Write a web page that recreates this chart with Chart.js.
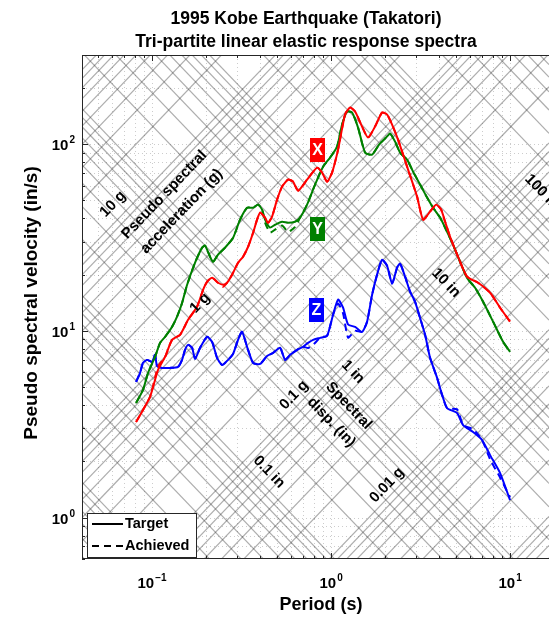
<!DOCTYPE html>
<html>
<head>
<meta charset="utf-8">
<script src="https://cdn.jsdelivr.net/npm/chart.js@4.4.0/dist/chart.umd.min.js"></script>
<style>
  html, body { margin: 0; padding: 0; background: #fff; overflow: hidden; }
  canvas { display: block; }
</style>
</head>
<body>
<canvas id="chart" width="549" height="617"></canvas>
<script>
// ---------------------------------------------------------------------------
// DATA (periods in s, pseudo spectral velocity in in/s)

const periodsX = [0.0814, 0.089, 0.0974, 0.1039, 0.108, 0.1182, 0.1293, 0.1433, 0.1589, 0.1783, 0.1927, 0.2028, 0.2164, 0.2337, 0.2492, 0.2624, 0.2798, 0.3022, 0.3224, 0.3439, 0.3667, 0.386, 0.4012, 0.4278, 0.4446, 0.468, 0.4993, 0.5324, 0.5751, 0.6134, 0.6542, 0.7343, 0.8351, 0.8906, 0.9499, 1.013, 1.094, 1.197, 1.277, 1.362, 1.49, 1.609, 1.761, 1.927, 2.056, 2.192, 2.367, 2.658, 3.023, 3.266, 3.574, 3.861, 4.118, 4.336, 4.623, 5.124, 5.751, 6.627, 7.733, 8.795, 10];
const targetX = [3.25, 3.77, 4.43, 5.46, 6.18, 7.25, 8.95, 9.52, 11.46, 13.45, 16.59, 18.31, 19.24, 18.09, 17.65, 18.09, 19.97, 23.15, 24.94, 28.2, 33.5, 39.4, 42.9, 40.4, 37.9, 40.9, 50.4, 59.2, 64.5, 62.9, 56.3, 64.5, 74.8, 70.4, 62.9, 70.4, 93.4, 144, 156.9, 149.4, 124.1, 108.4, 124.1, 147.6, 144, 127.2, 105.7, 75.7, 52.3, 39.4, 43.5, 47.4, 44.6, 38.4, 31.9, 24.9, 19.5, 18.1, 16.0, 13.3, 11.2];
const achievedX = [3.25, 3.77, 4.43, 5.6, 6.45, 7.25, 8.95, 9.52, 11.46, 13.45, 16.59, 18.31, 19.24, 18.09, 17.2, 18.09, 19.97, 23.15, 24.94, 28.2, 33.5, 39.4, 42.9, 40.4, 37.9, 40.9, 50.4, 59.2, 64.5, 62.9, 56.3, 64.5, 74.8, 70.4, 62.9, 70.4, 93.4, 144, 156.9, 149.4, 124.1, 108.4, 124.1, 147.6, 144, 127.2, 105.7, 75.7, 52.3, 39.4, 43.5, 47.4, 44.6, 38.4, 31.9, 24.9, 19.5, 18.1, 16.0, 13.3, 11.2];

const periodsY = [0.0814, 0.089, 0.095, 0.1039, 0.1108, 0.1182, 0.1293, 0.1379, 0.1471, 0.1568, 0.1739, 0.1903, 0.1977, 0.2109, 0.2192, 0.2337, 0.2557, 0.2835, 0.3102, 0.3394, 0.3667, 0.391, 0.4116, 0.4278, 0.4562, 0.4865, 0.5324, 0.5751, 0.6293, 0.6712, 0.7343, 0.814, 0.9022, 0.9872, 1.08, 1.152, 1.229, 1.31, 1.415, 1.549, 1.695, 1.854, 2.029, 2.136, 2.278, 2.43, 2.658, 2.872, 3.143, 3.439, 3.715, 4.064, 4.447, 4.804, 5.256, 5.751, 6.375, 7.068, 8.036, 9.141, 10];
const targetY = [4.11, 4.83, 5.96, 7.25, 8.62, 9.29, 10.5, 11.9, 14.1, 17.6, 23.2, 27.9, 28.6, 24.9, 23.4, 25.6, 27.9, 31.5, 39.4, 45.6, 45.6, 47.4, 44.6, 39.4, 35.7, 37.0, 38.4, 37.9, 38.4, 40.4, 47.4, 60.7, 75.7, 84.7, 97.0, 127.2, 149.4, 147.6, 122.6, 90.0, 87.8, 99.4, 108.4, 113.8, 103.1, 90.0, 82.6, 71.2, 60.7, 51.7, 45.6, 40.4, 33.9, 28.9, 23.4, 19.2, 17.0, 14.3, 11.2, 8.73, 7.72];
const achievedY = [4.11, 4.83, 5.96, 7.25, 8.62, 9.29, 10.5, 11.9, 14.1, 17.6, 23.2, 27.9, 28.6, 24.9, 23.4, 25.6, 27.9, 31.5, 39.4, 45.6, 45.6, 47.4, 44.6, 38.0, 33.6, 34.8, 36.6, 33.9, 36.0, 40.4, 47.4, 60.7, 75.7, 84.7, 97.0, 127.2, 149.4, 147.6, 122.6, 90.0, 87.8, 99.4, 108.4, 113.8, 103.1, 90.0, 82.6, 71.2, 60.7, 51.7, 45.6, 40.4, 33.9, 28.9, 23.4, 19.2, 17.0, 14.3, 11.2, 8.73, 7.72];

const periodsZ = [0.0814, 0.0857, 0.089, 0.0938, 0.1, 0.1039, 0.1066, 0.1137, 0.126, 0.1397, 0.1471, 0.1528, 0.1589, 0.1673, 0.1739, 0.1854, 0.2028, 0.2164, 0.2307, 0.2461, 0.2658, 0.2835, 0.3022, 0.3182, 0.3394, 0.3667, 0.4012, 0.4389, 0.4742, 0.5189, 0.5534, 0.5902, 0.6457, 0.6976, 0.7437, 0.7932, 0.868, 0.9499, 1.026, 1.094, 1.167, 1.245, 1.362, 1.49, 1.589, 1.695, 1.807, 1.927, 2.056, 2.192, 2.338, 2.43, 2.591, 2.763, 2.947, 3.143, 3.351, 3.574, 3.91, 4.171, 4.447, 5.058, 5.465, 6.214, 6.977, 7.733, 8.795, 10];
const targetZ = [5.33, 5.96, 6.74, 6.99, 6.82, 7.44, 6.49, 6.33, 6.33, 6.41, 6.99, 7.91, 8.41, 8.11, 7.08, 8.11, 9.29, 8.73, 7.17, 6.57, 6.99, 7.53, 8.95, 9.88, 8.21, 6.74, 6.65, 7.34, 7.62, 8.11, 6.99, 7.44, 7.91, 8.21, 8.62, 8.95, 9.17, 9.4, 12.2, 14.7, 13.3, 10.8, 10.5, 9.88, 11.2, 15.6, 20.0, 24.0, 22.3, 17.9, 21.8, 22.9, 19.5, 16.2, 14.3, 11.7, 9.52, 7.17, 5.6, 4.54, 3.86, 3.63, 3.13, 2.87, 2.6, 2.16, 1.73, 1.24];
const achievedZ = [5.33, 5.96, 6.74, 6.99, 6.82, 7.44, 6.49, 6.33, 6.33, 6.41, 6.99, 7.91, 8.41, 8.11, 7.08, 8.11, 9.29, 8.73, 7.17, 6.57, 6.99, 7.53, 8.95, 9.88, 8.21, 6.74, 6.65, 7.34, 7.62, 8.11, 6.99, 7.44, 7.91, 8.21, 8.1, 8.4, 9.17, 9.4, 12.2, 14.0, 12.4, 9.2, 10.0, 9.88, 11.2, 15.6, 20.0, 24.0, 22.3, 17.9, 21.8, 22.9, 19.5, 16.2, 14.3, 11.7, 9.52, 7.17, 5.6, 4.54, 3.86, 3.8, 3.13, 2.97, 2.6, 2.05, 1.64, 1.28];

// axis limits and tick exponents
const X_MIN = 0.0406, X_MAX = 16.5;
const Y_MIN = 0.6, Y_MAX = 300;
const xTickExps = [-1, 0, 1];
const yTickExps = [0, 1, 2];

const G_IN = 386.09;          // 1 g in in/s^2
const TWO_PI = 2 * Math.PI;
const FONT = '"Liberation Sans", Arial, Helvetica, sans-serif';

function pts(periods, vals) {
    return periods.map((t, i) => ({ x: t, y: vals[i] }));
}

function series(label, periods, vals, color, dashed) {
    return {
        label: label,
        data: pts(periods, vals),
        borderColor: color,
        borderWidth: 2,
        borderDash: dashed ? [7, 5] : [],
        pointRadius: 0,
        fill: false,
        tension: 0.2
    };
}

//---------------------------------------------------------------------------
// DRAWING HELPERS

function seg(ctx, x1, y1, x2, y2) {
    ctx.beginPath();
    ctx.moveTo(x1, y1);
    ctx.lineTo(x2, y2);
    ctx.stroke();
}

function rotText(ctx, lines, cx, cy, ang, lineGap) {
    ctx.save();
    ctx.translate(cx, cy);
    ctx.rotate(ang);
    ctx.textAlign = 'center';
    ctx.textBaseline = 'middle';
    const off = (lines.length - 1) * lineGap / 2;
    lines.forEach((s, i) => ctx.fillText(s, 0, i * lineGap - off));
    ctx.restore();
}

// "10" with a raised exponent; align is 'center' or 'right'
function powLabel(ctx, exp, x, baseline, align) {
    const base = '10', sup = String(exp).replace('-', '\u2212');
    ctx.font = 'bold 15px ' + FONT;
    const wb = ctx.measureText(base).width;
    ctx.font = 'bold 10px ' + FONT;
    const ws = ctx.measureText(sup).width;
    const total = wb + ws + 1;
    const left = align === 'right' ? x - total : x - total / 2;
    ctx.textAlign = 'left';
    ctx.textBaseline = 'alphabetic';
    ctx.font = 'bold 15px ' + FONT;
    ctx.fillText(base, left, baseline);
    ctx.font = 'bold 10px ' + FONT;
    ctx.fillText(sup, left + wb + 1, baseline - 7);
}

const tripartite = {
    id: 'tripartite',
    beforeDatasetsDraw(chart) {
        const { ctx, chartArea: a, scales: { x, y } } = chart;
        ctx.save();
        ctx.beginPath();
        ctx.rect(a.left, a.top, a.right - a.left, a.bottom - a.top);
        ctx.clip();

        // dotted log grid
        ctx.strokeStyle = 'rgba(0,0,0,0.2)';
        ctx.lineWidth = 1;
        ctx.setLineDash([1, 3]);
        for (let e = -2; e <= 2; e++) {
            for (let m = 1; m <= 9; m++) {
                const v = m * Math.pow(10, e);
                if (v > x.min && v < x.max) {
                    const p = Math.round(x.getPixelForValue(v)) + 0.5;
                    seg(ctx, p, a.top, p, a.bottom);
                }
                if (v > y.min && v < y.max) {
                    const p = Math.round(y.getPixelForValue(v)) + 0.5;
                    seg(ctx, a.left, p, a.right, p);
                }
            }
        }
        ctx.setLineDash([]);

        // constant acceleration (g) and constant displacement (in) lines
        ctx.strokeStyle = 'rgba(60,60,60,0.42)';
        ctx.lineWidth = 1.2;
        const xl = x.getPixelForValue(x.min), xr = x.getPixelForValue(x.max);
        for (let e = -4; e <= 3; e++) {
            for (let m = 1; m <= 9; m++) {
                const k = m * Math.pow(10, e);
                // PSV = A * g * T / 2pi
                seg(ctx, xl, y.getPixelForValue(k * G_IN * x.min / TWO_PI),
                         xr, y.getPixelForValue(k * G_IN * x.max / TWO_PI));
                // PSV = 2pi * D / T
                seg(ctx, xl, y.getPixelForValue(TWO_PI * k / x.min),
                         xr, y.getPixelForValue(TWO_PI * k / x.max));
            }
        }
        ctx.restore();
    },
    afterDatasetsDraw(chart) {
        const { ctx, chartArea: a, scales: { x, y } } = chart;
        const W = chart.width;
        ctx.save();

        // box and ticks
        ctx.strokeStyle = '#262626';
        ctx.lineWidth = 1;
        seg(ctx, a.left + 0.5, a.top, a.left + 0.5, a.bottom);
        seg(ctx, a.left, a.bottom - 0.5, a.right, a.bottom - 0.5);
        seg(ctx, a.left, a.top + 0.5, a.right, a.top + 0.5);
        for (let e = -2; e <= 2; e++) {
            for (let m = 1; m <= 9; m++) {
                const v = m * Math.pow(10, e);
                const len = m === 1 ? 6 : 3;
                if (v > x.min && v < x.max) {
                    const p = Math.round(x.getPixelForValue(v)) + 0.5;
                    seg(ctx, p, a.bottom, p, a.bottom - len);
                    seg(ctx, p, a.top, p, a.top + len);
                }
                if (v > y.min && v < y.max) {
                    const p = Math.round(y.getPixelForValue(v)) + 0.5;
                    seg(ctx, a.left, p, a.left + len, p);
                }
            }
        }

        // tick labels
        ctx.fillStyle = '#000';
        xTickExps.forEach(e => powLabel(ctx, e, x.getPixelForValue(Math.pow(10, e)), 588, 'center'));
        yTickExps.forEach(e => powLabel(ctx, e, 75, y.getPixelForValue(Math.pow(10, e)) + 6, 'right'));

        // axis titles and title
        ctx.textAlign = 'center';
        ctx.textBaseline = 'alphabetic';
        ctx.font = 'bold 18px ' + FONT;
        ctx.fillText('Period (s)', 321, 610);
        ctx.save();
        ctx.translate(37, 303);
        ctx.rotate(-Math.PI / 2);
        ctx.font = 'bold 19px ' + FONT;
        ctx.fillText('Pseudo spectral velocity (in/s)', 0, 0);
        ctx.restore();
        ctx.font = 'bold 17.5px ' + FONT;
        ctx.fillText('1995 Kobe Earthquake (Takatori)', 306, 24);
        ctx.fillText('Tri-partite linear elastic response spectra', 306, 47);

        // diagonal labels
        ctx.save();
        ctx.beginPath();
        ctx.rect(a.left, a.top, W - a.left, a.bottom - a.top);
        ctx.clip();
        const up = -Math.atan((y.getPixelForValue(1) - y.getPixelForValue(10)) / (x.getPixelForValue(10) - x.getPixelForValue(1)));
        ctx.font = 'bold 15px ' + FONT;
        rotText(ctx, ['10 g'], 113, 204, up, 0);
        rotText(ctx, ['Pseudo spectral', 'acceleration (g)'], 173, 203, up, 24);
        rotText(ctx, ['1 g'], 200, 303, up, 0);
        rotText(ctx, ['0.1 g'], 294, 395, up, 0);
        rotText(ctx, ['0.01 g'], 387, 485, up, 0);
        rotText(ctx, ['0.1 in'], 269, 472, -up, 0);
        rotText(ctx, ['1 in'], 353, 372, -up, 0);
        rotText(ctx, ['Spectral', 'disp. (in)'], 340, 414, -up, 24);
        rotText(ctx, ['10 in'], 446, 283, -up, 0);
        rotText(ctx, ['100 in'], 542, 192, -up, 0);
        ctx.restore();

        // component tags
        [['X', '#ff0000', 317, 150], ['Y', '#008000', 317, 229], ['Z', '#0000ff', 316, 310]].forEach(([s, c, cx, cy]) => {
            ctx.fillStyle = c;
            ctx.fillRect(cx - 7, cy - 12, 15, 24);
            ctx.fillStyle = '#fff';
            ctx.font = 'bold 16px ' + FONT;
            ctx.textAlign = 'center';
            ctx.textBaseline = 'middle';
            ctx.fillText(s, cx + 0.5, cy + 1);
        });

        // legend
        ctx.fillStyle = '#fff';
        ctx.fillRect(87, 513, 109, 44);
        ctx.strokeStyle = '#262626';
        ctx.lineWidth = 1;
        ctx.strokeRect(87.5, 513.5, 109, 44);
        ctx.strokeStyle = '#000';
        ctx.lineWidth = 2;
        seg(ctx, 92, 524, 123, 524);
        ctx.setLineDash([7, 5]);
        seg(ctx, 92, 546, 123, 546);
        ctx.setLineDash([]);
        ctx.fillStyle = '#000';
        ctx.font = 'bold 14.5px ' + FONT;
        ctx.textAlign = 'left';
        ctx.textBaseline = 'middle';
        ctx.fillText('Target', 125, 524);
        ctx.fillText('Achieved', 125, 546);

        ctx.restore();
    }
};

new Chart(document.getElementById('chart'), {
    type: 'line',
    data: {
        datasets: [
            series('X target', periodsX, targetX, '#ff0000', false),
            series('X achieved', periodsX, achievedX, '#ff0000', true),
            series('Y target', periodsY, targetY, '#008000', false),
            series('Y achieved', periodsY, achievedY, '#008000', true),
            series('Z target', periodsZ, targetZ, '#0000ff', false),
            series('Z achieved', periodsZ, achievedZ, '#0000ff', true)
        ]
    },
    options: {
        responsive: false,
        animation: false,
        layout: { padding: { top: 55, left: 0, right: 0, bottom: 0 } },
        plugins: { legend: { display: false }, title: { display: false }, tooltip: { enabled: false } },
        scales: {
            x: {
                type: 'logarithmic', min: X_MIN, max: X_MAX, bounds: 'data',
                grid: { display: false }, border: { display: false }, ticks: { display: false },
                afterFit: s => { s.height = 58; }
            },
            y: {
                type: 'logarithmic', min: Y_MIN, max: Y_MAX, bounds: 'data',
                grid: { display: false }, border: { display: false }, ticks: { display: false },
                afterFit: s => { s.width = 82; }
            }
        }
    },
    plugins: [tripartite]
});
</script>
</body>
</html>
